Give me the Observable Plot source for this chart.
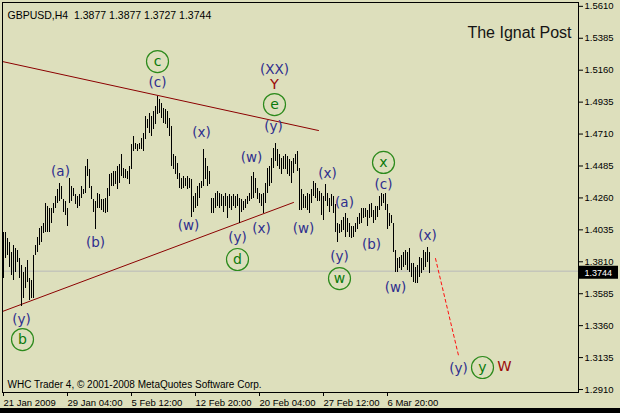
<!DOCTYPE html>
<html><head><meta charset="utf-8">
<script src="https://cdn.jsdelivr.net/npm/d3@7"></script>
<script src="https://cdn.jsdelivr.net/npm/@observablehq/plot@0.6"></script>
<style>
html,body{margin:0;padding:0;background:#dddfbc;}
#chart{width:620px;height:413px;position:relative;overflow:hidden;}
#strip{position:absolute;left:0;top:408px;width:620px;height:5px;background:#000;}
</style></head><body><div id="chart"></div>
<script>
// ---- data: GBPUSD H4 bars (high / low) ----
const highs = [
1.4013,1.4013,1.3971,1.3943,1.3872,1.3922,1.3901,1.3887,1.3830,1.3781,
1.3732,1.3767,1.3816,1.3690,1.3676,1.3851,1.3922,1.3978,1.4048,1.4062,
1.4083,1.4224,1.4203,1.4189,1.4182,1.4224,1.4273,1.4322,1.4365,1.4344,
1.4252,1.4238,1.4189,1.4400,1.4344,1.4329,1.4287,1.4273,1.4287,1.4344,
1.4322,1.4484,1.4533,1.4463,1.4344,1.4252,1.4238,1.4294,1.4287,1.4252,
1.4252,1.4259,1.4329,1.4428,1.4435,1.4449,1.4449,1.4484,1.4498,1.4568,
1.4470,1.4463,1.4449,1.4484,1.4639,1.4695,1.4646,1.4639,1.4646,1.4681,
1.4716,1.4836,1.4814,1.4857,
1.4836,1.4871,1.4906,1.4976,1.4955,1.4927,1.4892,1.4885,1.4871,1.4821,
1.4765,1.4568,1.4554,1.4505,1.4435,1.4400,1.4414,1.4400,1.4414,1.4400,
1.4393,1.4273,1.4294,1.4344,1.4365,1.4379,1.4604,1.4540,1.4484,1.4449,
1.4259,1.4259,1.4294,1.4308,1.4294,1.4287,1.4273,1.4294,1.4273,1.4287,
1.4273,1.4287,1.4273,1.4287,1.4259,1.4252,1.4238,1.4252,1.4273,1.4294,
1.4414,1.4442,1.4400,1.4329,1.4294,1.4287,1.4294,1.4365,1.4470,1.4484,
1.4540,1.4611,1.4646,1.4604,1.4568,1.4540,1.4554,1.4568,1.4554,1.4533,
1.4519,1.4540,
1.4568,1.4590,1.4470,1.4322,1.4287,1.4273,1.4294,1.4287,
1.4322,1.4379,1.4365,1.4329,1.4308,1.4294,1.4273,1.4358,1.4294,1.4259,
1.4287,1.4273,1.4217,1.4083,1.4076,1.4098,1.4119,1.4147,1.4112,1.4083,
1.4062,1.4062,1.4083,1.4119,1.4147,1.4182,1.4189,1.4182,1.4168,1.4217,
1.4224,1.4168,1.4203,1.4203,1.4273,1.4294,1.4287,1.4294,1.4217,1.4147,
1.4133,1.4083,1.3887,1.3830,1.3837,1.3851,1.3872,1.3887,1.3872,1.3901,
1.3795,1.3795,1.3767,1.3781,1.3837,1.3830,1.3887,1.3872,1.3908,1.3877
];
const lows = [
1.3690,1.3830,1.3851,1.3767,1.3711,1.3676,1.3732,1.3802,1.3690,1.3497,
1.3549,1.3619,1.3662,1.3535,1.3549,1.3549,1.3851,1.3872,1.3922,1.3943,
1.4006,1.4013,1.4013,1.4013,1.4083,1.4147,1.4189,1.4224,1.4238,1.4252,
1.4154,1.4133,1.4062,1.4224,1.4238,1.4273,1.4217,1.4189,1.4203,1.4259,
1.4287,1.4294,1.4414,1.4329,1.4252,1.4154,1.4041,1.4182,1.4189,1.4168,
1.4154,1.4147,1.4154,1.4273,1.4344,1.4344,1.4358,1.4322,1.4365,1.4414,
1.4400,1.4400,1.4393,1.4358,1.4463,1.4590,1.4604,1.4590,1.4604,1.4604,
1.4590,1.4674,1.4751,1.4716,
1.4695,1.4744,1.4779,1.4850,1.4857,1.4821,1.4786,1.4779,1.4751,1.4695,
1.4484,1.4463,1.4428,1.4393,1.4329,1.4322,1.4329,1.4344,1.4322,1.4329,
1.4119,1.4154,1.4182,1.4203,1.4259,1.4329,1.4344,1.4393,1.4344,1.4358,
1.4147,1.4147,1.4182,1.4203,1.4182,1.4203,1.4154,1.4203,1.4112,1.4189,
1.4168,1.4203,1.4182,1.4203,1.4083,1.4154,1.4168,1.4189,1.4217,1.4238,
1.4252,1.4259,1.4294,1.4252,1.4224,1.4203,1.4147,1.4224,1.4294,1.4344,
1.4365,1.4470,1.4519,1.4484,1.4463,1.4428,1.4463,1.4463,1.4428,1.4414,
1.4365,1.4435,
1.4498,1.4449,1.4168,1.4168,1.4182,1.4189,1.4168,1.4147,
1.4224,1.4273,1.4259,1.4238,1.4238,1.4133,1.4098,1.4238,1.4203,1.4154,
1.4203,1.4147,1.4013,1.3943,1.4006,1.4013,1.4027,1.3978,1.4013,1.3978,
1.3971,1.3978,1.4013,1.4041,1.4076,1.4083,1.4112,1.4119,1.4062,1.4112,
1.4119,1.4083,1.4098,1.4119,1.4168,1.4203,1.4224,1.4168,1.4041,1.4062,
1.4083,1.3872,1.3732,1.3732,1.3760,1.3746,1.3767,1.3781,1.3746,1.3732,
1.3697,1.3662,1.3655,1.3655,1.3697,1.3725,1.3746,1.3767,1.3802,1.3727
];
const lastPrice = 1.3744;
const header = "GBPUSD,H4\u00a0\u00a01.3877 1.3877 1.3727 1.3744";
const titleText = "The Ignat Post";
const copyright = "WHC Trader 4, \u00a9 2001-2008 MetaQuotes Software Corp.";

// time axis (bar index -> label)
const timeTicks = [0, 32, 64, 96, 128, 160, 192];
const timeLabels = ["21 Jan 2009","29 Jan 04:00","5 Feb 12:00","12 Feb 20:00","20 Feb 04:00","27 Feb 12:00","6 Mar 20:00"];
// price axis
const priceTicks = [1.2910,1.3135,1.3360,1.3585,1.3810,1.4035,1.4260,1.4485,1.4710,1.4935,1.5160,1.5385,1.5610];

// trend lines [bar index, price]
const upperLine = [[-0.5, 1.5221], [157.5, 1.4735]];
const lowerLine = [[-0.5, 1.3460], [145, 1.4228]];
const projection = [[216, 1.3833], [227.5, 1.3150]];

// wave labels
const navyText  = ["(y)","(a)","(b)","(c)","(x)","(w)","(XX)","(y)","(w)","(x)","(y)","(w)","(x)","(a)","(y)","(b)","(c)","(w)","(x)","(y)"];
const navyIdx   = [9, 28.5, 46, 77, 99, 92.5, 135.5, 135, 124, 129, 117, 150, 162, 170.5, 168, 184, 190, 196, 212, 227.5];
const navyPrice = [1.3403,1.4446,1.3946,1.5073,1.4721,1.4066,1.5165,1.4763,1.4545,1.4045,1.3981,1.4045,1.4432,1.4228,1.3847,1.3932,1.4355,1.3629,1.3995,1.3058];
const greenText  = ["b","c","e","d","w","x","y"];
const greenIdx   = [9.5, 77, 135.5, 117, 168, 190, 239.5];
const greenPrice = [1.3262,1.5221,1.4918,1.3826,1.3692,1.4510,1.3065];
const redText  = ["Y","W"];
const redIdx   = [135.5, 250.5];
const redPrice = [1.5059, 1.3072];

const bars = highs.map((h, i) => ({i, high: h, low: lows[i]}));
const navy = navyText.map((t, k) => ({t, x: navyIdx[k], y: navyPrice[k]}));
const green = greenText.map((t, k) => ({t, x: greenIdx[k], y: greenPrice[k]}));
const red = redText.map((t, k) => ({t, x: redIdx[k], y: redPrice[k]}));

const xDomain = [-0.5, 287.5];
const bg = "#dddfbc";
const plot = Plot.plot({
  width: 620, height: 413,
  marginLeft: 2, marginRight: 42, marginTop: 2, marginBottom: 21,
  style: {background: bg, fontFamily: "Liberation Sans, Arial, sans-serif", fontSize: "9.5px", color: "black", overflow: "visible"},
  x: {domain: xDomain, axis: null},
  y: {domain: [1.2889, 1.5637], axis: null},
  marks: [
    Plot.ruleY([lastPrice], {stroke: "#b9b9b9", strokeWidth: 1}),
    Plot.line(upperLine, {x: d => d[0], y: d => d[1], stroke: "#8b0000", strokeWidth: 1}),
    Plot.line(lowerLine, {x: d => d[0], y: d => d[1], stroke: "#8b0000", strokeWidth: 1}),
    Plot.line(projection, {x: d => d[0], y: d => d[1], stroke: "#ff1010", strokeWidth: 1, strokeDasharray: "3,3"}),
    Plot.ruleX(bars, {x: "i", y1: "low", y2: "high", stroke: "black", strokeWidth: 1, shapeRendering: "crispEdges"}),
    Plot.text(navy, {x: "x", y: "y", text: "t", fill: "#2e2e8e", fontSize: 13.5, fontFamily: "DejaVu Sans"}),
    Plot.dot(green, {x: "x", y: "y", r: 11, stroke: "#2c8a1c", strokeWidth: 1.2, fill: "none"}),
    Plot.text(green, {x: "x", y: "y", text: "t", fill: "#0b7a0b", fontSize: 14, fontFamily: "DejaVu Sans"}),
    Plot.text(red, {x: "x", y: "y", text: "t", fill: "#9b0a0a", fontSize: 14.5, fontFamily: "DejaVu Sans"}),
    Plot.axisX(timeTicks, {anchor: "bottom", tickSize: 4, tickPadding: 3, textAnchor: "start", fontSize: 9.5,
      tickFormat: d => timeLabels[timeTicks.indexOf(d)]}),
    Plot.axisY(priceTicks, {anchor: "right", tickSize: 4, tickPadding: 2, fontSize: 9.5,
      tickFormat: d => d.toFixed(4)}),
    // current price marker in the price-scale margin
    Plot.ruleY([lastPrice], {x1: xDomain[1] + 0.5, x2: xDomain[1] + 20, dy: 1, stroke: "black", strokeWidth: 13, clip: false}),
    Plot.text([lastPrice], {x: xDomain[1] + 3, y: d => d, dy: 2, text: d => d.toFixed(4), textAnchor: "start", fill: "white", fontSize: 9, clip: false}),
    Plot.frame({stroke: "black"}),
    Plot.text([header], {frameAnchor: "top-left", dx: 5, dy: 9, textAnchor: "start", fontSize: 10.5, fill: "black"}),
    Plot.text([titleText], {frameAnchor: "top-right", dx: -7, dy: 24, textAnchor: "end", fontSize: 16, fill: "#141414"}),
    Plot.text([copyright], {frameAnchor: "bottom-left", dx: 5, dy: -5, textAnchor: "start", fontSize: 10, fill: "black"})
  ]
});
const chart = document.getElementById("chart");
chart.appendChild(plot);
const strip = document.createElement("div");
strip.id = "strip";
chart.appendChild(strip);
</script>
</body></html>
